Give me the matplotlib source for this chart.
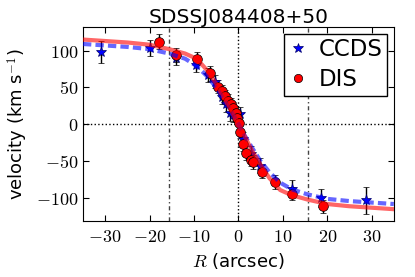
import matplotlib
matplotlib.use("Agg")
import matplotlib.pyplot as plt
from matplotlib.lines import Line2D

plt.rcParams['mathtext.fontset'] = 'cm'
plt.rcParams['font.family'] = ['DejaVu Sans']

# CCDS data (blue stars)
ccds_r = [-31.0, -19.9, -14.1, -9.6, -6.8, -5.3, -3.6, -2.7, -1.8, -1.2, 0.3, 1.0, 2.9, 4.9, 12.0, 18.7, 28.8]
ccds_v = [98, 104, 90, 80, 67, 58, 37, 27, 15, 13, 14, -20, -40, -56, -87, -100, -103]
ccds_e = [15, 11, 10, 9, 9, 9, 10, 10, 10, 10, 10, 10, 10, 10, 11, 12, 18]

# DIS data (red circles)
dis_r = [-17.8, -14.1, -9.3, -6.5, -4.6, -3.8, -3.1, -2.3, -1.6, -1.2, -0.6, -0.3, 0.1, 0.3, 1.0, 1.8, 2.9, 3.3, 5.3, 8.2, 12.1, 19.0]
dis_v = [112, 94, 89, 69, 51, 45, 38, 32, 27, 22, 15, 9, 2, -10, -27, -39, -48, -51, -64, -78, -94, -111]
dis_e = [10, 9, 9, 10, 9, 9, 9, 9, 9, 9, 9, 9, 9, 9, 9, 9, 9, 9, 9, 9, 9, 9]

# Fitted rotation curves
fit_r = [-35, -30, -25, -20, -15.6, -12, -9.4, -7, -5, -3, -1.5, 0, 1.5, 3, 5, 7, 9.4, 12, 15.6, 20, 25, 30, 35]
red_v = [115, 113, 111, 108, 102, 96, 89, 73, 55, 35, 17, 0, -17, -35, -55, -73, -89, -96, -102, -108, -111, -113, -115]
blue_v = [109, 107, 105, 102, 96, 89, 79, 65, 50, 31, 16, 0, -16, -31, -50, -65, -79, -88, -95, -101, -104, -106, -108]

vlines = [-15.6, 15.6]
xticks = [-30, -20, -10, 0, 10, 20, 30]
yticks = [-100, -50, 0, 50, 100]

fig = plt.figure(figsize=(4.15, 2.77), dpi=100)
ax = fig.add_axes([0.2, 0.2022, 0.749, 0.7003])

ax.axhline(0, color='black', ls=':', lw=1, zorder=1)
ax.axvline(0, color='black', ls=':', lw=1, zorder=1)
for xv in vlines:
    ax.axvline(xv, color='#444444', lw=1, dashes=(3, 2, 1, 2), zorder=1)

ax.errorbar(ccds_r, ccds_v, yerr=ccds_e, fmt='*', color='blue', mec='#000066', mew=0.5,
            ms=8, ecolor='black', elinewidth=1, capsize=2.5, zorder=3)
ax.errorbar(dis_r, dis_v, yerr=dis_e, fmt='o', color='red', mec='black', mew=0.5,
            ms=7, ecolor='black', elinewidth=1, capsize=2.5, zorder=3)

ax.plot(fit_r, blue_v, color='blue', lw=3, alpha=0.6, dashes=(2, 1), zorder=4)
ax.plot(fit_r, red_v, color='red', ls='-', lw=3, alpha=0.6, zorder=4)

ax.set_xlim(-35, 35)
ax.set_ylim(-131, 132)
ax.set_xticks(xticks)
ax.set_yticks(yticks)
ax.set_xticklabels(['$%d$' % t for t in xticks])
ax.set_yticklabels(['$%d$' % t for t in yticks])
ax.tick_params(direction='in', top=True, right=True, length=4, labelsize=13, width=0.8)
ax.tick_params(axis='x', pad=5)

ax.set_xlabel('$R$ (arcsec)', fontsize=13)
ax.set_ylabel('velocity (km s$^{-1}$)', fontsize=13)
ax.set_title('SDSSJ084408+50', fontsize=14.5, pad=3)

handles = [Line2D([], [], marker='*', color='blue', mec='#000066', mew=0.5, ms=7, ls='none'),
           Line2D([], [], marker='o', color='red', mec='black', mew=0.5, ms=6, ls='none')]
leg = ax.legend(handles, ['CCDS', 'DIS'], loc='upper right', fontsize=16.5, fancybox=False,
                edgecolor='black', framealpha=1, handlelength=0.8, handletextpad=0.5,
                borderpad=0.2, labelspacing=0.3, borderaxespad=0.3)
leg.get_frame().set_linewidth(1)

fig.savefig('out.png', dpi=100)
